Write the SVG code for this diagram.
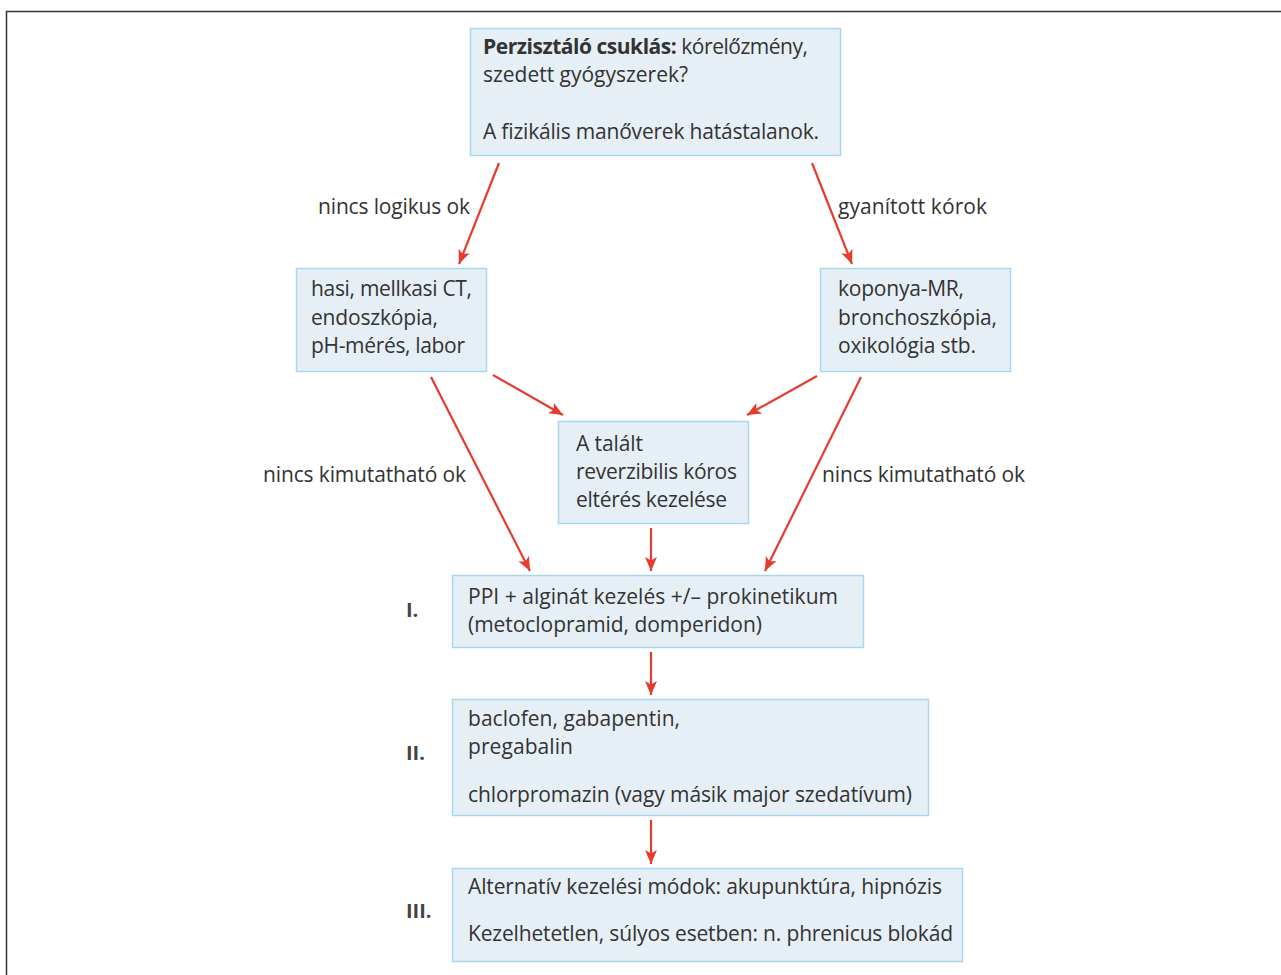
<svg xmlns="http://www.w3.org/2000/svg" width="1281" height="975" viewBox="0 0 1281 975">
<style>
.box{fill:#e6eff5;stroke:#a8d8f0;stroke-width:1.5}
.t{font-family:"Open Sans","Liberation Sans",sans-serif;font-size:21px;fill:#333}
.b{font-weight:bold}
.num{font-family:"Open Sans","Liberation Sans",sans-serif;font-size:20px;font-weight:bold;fill:#444}
.c{stroke:#e63b2e;stroke-width:2.2;fill:none;marker-end:url(#ah)}
</style>
<defs>
<marker id="ah" markerWidth="15" markerHeight="13" refX="14" refY="6.5" orient="auto" markerUnits="userSpaceOnUse">
<path d="M0,0.5 L14,6.5 L0,12.5 L3.5,6.5 z" fill="#e63b2e"/>
</marker>
</defs>
<rect x="0" y="0" width="1281" height="975" fill="#fff"/>
<path d="M6.5,985 L6.5,11.5 L1290,11.5" fill="none" stroke="#333" stroke-width="1.5"/>

<g id="connectors">
<line class="c" x1="499" y1="163" x2="459" y2="264"/>
<line class="c" x1="812" y1="163" x2="852" y2="264"/>
<line class="c" x1="493" y1="375" x2="563" y2="415"/>
<line class="c" x1="817" y1="376" x2="747" y2="415"/>
<line class="c" x1="431" y1="377" x2="530" y2="571"/>
<line class="c" x1="651" y1="528" x2="651" y2="571"/>
<line class="c" x1="861" y1="377" x2="765" y2="571"/>
<line class="c" x1="651" y1="652" x2="651" y2="695"/>
<line class="c" x1="651" y1="820" x2="651" y2="864"/>
<text class="t" x="318" y="214" textLength="152">nincs logikus ok</text>
<text class="t" x="838" y="214" textLength="149">gyanított kórok</text>
<text class="t" x="263" y="482" textLength="203">nincs kimutatható ok</text>
<text class="t" x="822" y="482" textLength="203">nincs kimutatható ok</text>
</g>

<g id="n-top">
<rect class="box" x="470.5" y="28.5" width="370" height="127"/>
<text class="t" x="483" y="54" textLength="325"><tspan class="b">Perzisztáló csuklás:</tspan> kórelőzmény,</text>
<text class="t" x="483" y="82" textLength="205">szedett gyógyszerek?</text>
<text class="t" x="483" y="139" textLength="336">A fizikális manőverek hatástalanok.</text>
</g>

<g id="n-left">
<rect class="box" x="296.5" y="268.5" width="190" height="103"/>
<text class="t" x="311" y="296" textLength="161">hasi, mellkasi CT,</text>
<text class="t" x="311" y="325" textLength="127">endoszkópia,</text>
<text class="t" x="311" y="353" textLength="154">pH-mérés, labor</text>
</g>

<g id="n-right">
<rect class="box" x="820.5" y="268.5" width="190" height="103"/>
<text class="t" x="838" y="296" textLength="126">koponya-MR,</text>
<text class="t" x="838" y="325" textLength="159">bronchoszkópia,</text>
<text class="t" x="838" y="353" textLength="138">oxikológia stb.</text>
</g>

<g id="n-center">
<rect class="box" x="558.5" y="421.5" width="190" height="102"/>
<text class="t" x="576" y="451" textLength="67">A talált</text>
<text class="t" x="576" y="479" textLength="161">reverzibilis kóros</text>
<text class="t" x="576" y="507" textLength="151">eltérés kezelése</text>
</g>

<g id="n-I">
<rect class="box" x="452.5" y="575.5" width="411" height="72"/>
<text class="t" x="468" y="604" textLength="370">PPI + alginát kezelés +/– prokinetikum</text>
<text class="t" x="468" y="632" textLength="294">(metoclopramid, domperidon)</text>
<text class="num" x="406" y="617">I.</text>
</g>

<g id="n-II">
<rect class="box" x="452.5" y="699.5" width="476" height="116"/>
<text class="t" x="468" y="726" textLength="212">baclofen, gabapentin,</text>
<text class="t" x="468" y="754" textLength="105">pregabalin</text>
<text class="t" x="468" y="802" textLength="444">chlorpromazin (vagy másik major szedatívum)</text>
<text class="num" x="406" y="760">II.</text>
</g>

<g id="n-III">
<rect class="box" x="452.5" y="868.5" width="510" height="93"/>
<text class="t" x="468" y="894" textLength="474">Alternatív kezelési módok: akupunktúra, hipnózis</text>
<text class="t" x="468" y="941" textLength="485">Kezelhetetlen, súlyos esetben: n. phrenicus blokád</text>
<text class="num" x="406" y="918">III.</text>
</g>
</svg>
